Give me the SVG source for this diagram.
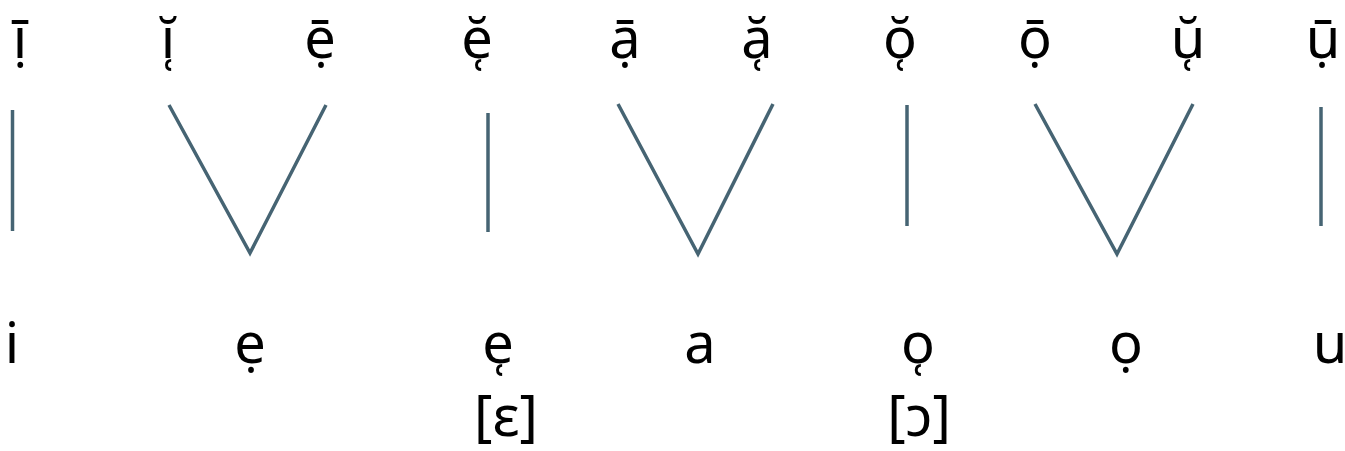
<svg xmlns="http://www.w3.org/2000/svg" width="1345" height="451" viewBox="0 0 1345 451">
<style>
.t{font-family:"Noto Sans","DejaVu Sans",sans-serif;font-size:56px;fill:#000;text-anchor:middle}
.c{fill:none;stroke:#466473;stroke-width:3.5;stroke-linejoin:miter}
</style>
<rect width="1345" height="451" fill="#fff"/>
<g id="top-row">
<g id="n-i-long-top"><text class="t" x="20" y="58">&#x012B;&#x0323;</text></g>
<g id="n-i-short-top"><text class="t" x="168" y="58">&#x012D;&#x031C;</text></g>
<g id="n-e-long-top"><text class="t" x="320" y="58">&#x1EB9;&#x0304;</text></g>
<g id="n-e-short-top"><text class="t" x="477" y="58">&#x0115;&#x031C;</text></g>
<g id="n-a-long-top"><text class="t" x="625" y="58">&#x1EA1;&#x0304;</text></g>
<g id="n-a-short-top"><text class="t" x="757" y="58">&#x0103;&#x031C;</text></g>
<g id="n-o-short-top"><text class="t" x="900" y="58">&#x014F;&#x031C;</text></g>
<g id="n-o-long-top"><text class="t" x="1035" y="58">&#x1ECD;&#x0304;</text></g>
<g id="n-u-short-top"><text class="t" x="1188" y="58">&#x016D;&#x031C;</text></g>
<g id="n-u-long-top"><text class="t" x="1323" y="58">&#x1EE5;&#x0304;</text></g>
</g>
<g id="connectors">
<line class="c" x1="12.5" y1="110" x2="12.5" y2="231"/>
<polyline class="c" points="169,105 250,253 326,105"/>
<line class="c" x1="488" y1="113" x2="488" y2="232"/>
<polyline class="c" points="618,104 698,254 773,104"/>
<line class="c" x1="907" y1="105" x2="907" y2="226"/>
<polyline class="c" points="1035,104 1117,254 1193,104"/>
<line class="c" x1="1321" y1="107" x2="1321" y2="226"/>
</g>
<g id="bottom-row">
<g id="n-i"><text class="t" x="12" y="363">i</text></g>
<g id="n-e-close"><text class="t" x="250" y="363">&#x1EB9;</text></g>
<g id="n-e-open"><text class="t" x="498" y="363">e&#x031C;</text><text class="t" x="506" y="436">[&#x025B;]</text></g>
<g id="n-a"><text class="t" x="700" y="363">a</text></g>
<g id="n-o-open"><text class="t" x="918" y="363">o&#x031C;</text><text class="t" x="919" y="436">[&#x0254;]</text></g>
<g id="n-o-close"><text class="t" x="1126" y="363">&#x1ECD;</text></g>
<g id="n-u"><text class="t" x="1330" y="363">u</text></g>
</g>
</svg>
